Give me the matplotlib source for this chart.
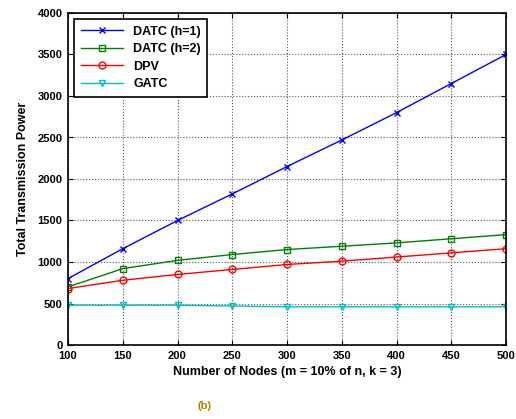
import matplotlib.pyplot as plt
import numpy as np

plt.rcParams['font.family'] = ['Liberation Sans', 'DejaVu Sans']
plt.rcParams['font.weight'] = 'bold'
plt.rcParams['axes.labelweight'] = 'bold'

nodes = [100, 150, 200, 250, 300, 350, 400, 450, 500]
datc_h1 = [800, 1160, 1500, 1820, 2150, 2470, 2800, 3150, 3500]
datc_h2 = [700, 920, 1020, 1090, 1150, 1190, 1230, 1280, 1330]
dpv = [680, 780, 850, 910, 970, 1010, 1060, 1110, 1160]
gatc = [480, 480, 480, 470, 460, 460, 460, 460, 460]

fig = plt.figure(figsize=(5.16, 4.19), dpi=100)
ax = fig.add_axes([68/516, 1-345/419, 438/516, 332/419])

ax.plot(nodes, datc_h1, color='#0000ff', marker='x', ms=5, lw=1, label='DATC (h=1)')
ax.plot(nodes, datc_h2, color='#008000', marker='s', ms=5, mfc='none', lw=1, label='DATC (h=2)')
ax.plot(nodes, dpv, color='#ff0000', marker='o', ms=5, mfc='none', lw=1, label='DPV')
ax.plot(nodes, gatc, color='#00bfbf', marker='v', ms=5, mfc='none', lw=1, label='GATC')

ax.set_xlim(100, 500)
ax.set_ylim(0, 4000)
ax.set_xticks(nodes)
ax.set_yticks(np.arange(0, 4001, 500))
ax.tick_params(direction='in', labelsize=8, top=True, right=True, pad=4)
for lab in ax.get_xticklabels() + ax.get_yticklabels():
    lab.set_fontweight('bold')
ax.grid(True, linestyle=':', color='#555555', lw=0.8)
for s in ax.spines.values():
    s.set_linewidth(1.2)

ax.set_xlabel('Number of Nodes (m = 10% of n, k = 3)', fontsize=9, labelpad=4)
ax.set_ylabel('Total Transmission Power', fontsize=9, labelpad=6)

leg = ax.legend(loc='upper left', fontsize=9, fancybox=False, edgecolor='black',
                framealpha=1, handlelength=3.4, borderpad=0.5, labelspacing=0.45)
leg.get_frame().set_linewidth(1.2)
for t in leg.get_texts():
    t.set_fontweight('bold')

fig.text(205/516, 0.025, '(b)', fontsize=8, ha='center', color='#b08000')

fig.savefig('out.png', dpi=100)
